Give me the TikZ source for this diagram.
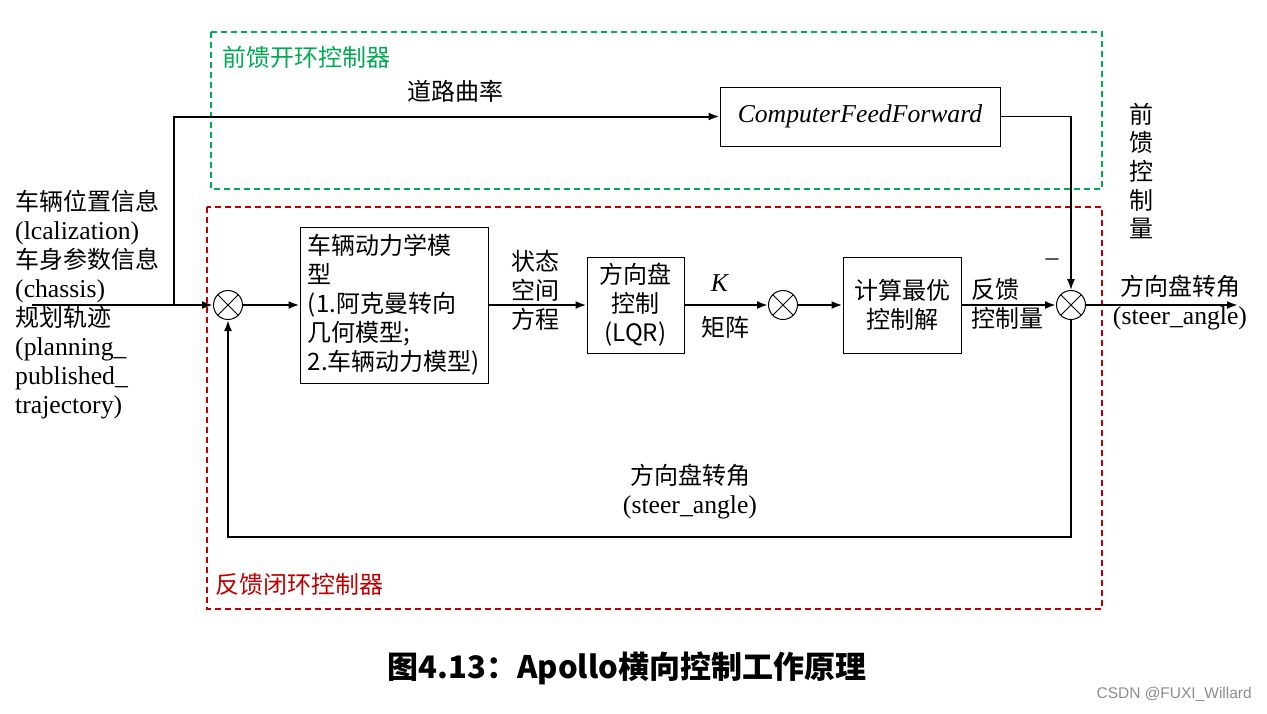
\documentclass[tikz,border=0pt]{standalone}
\usepackage{fontspec}
\setmainfont{Liberation Serif}[Scale=1.07]
\newfontfamily\cjk{Noto Sans CJK SC}
\newfontfamily\wmfont{Liberation Sans}
\usepackage{tikz}
\usetikzlibrary{arrows.meta,positioning,calc}

\definecolor{ffgreen}{RGB}{0,170,80}
\definecolor{fbred}{RGB}{192,0,0}

\begin{document}
\begin{tikzpicture}[
            x=1pt, y=-1pt,
            font=\fontsize{24}{29}\selectfont,
            blk/.style={draw, line width=1pt, inner sep=4pt, align=center},
            sumjct/.style={draw, circle, line width=1pt, minimum size=29pt,
            inner sep=0pt, path picture={
              \draw[line width=1pt]
                (path picture bounding box.south west) -- (path picture bounding box.north east)
                (path picture bounding box.north west) -- (path picture bounding box.south east);}},
            sig/.style={-{Latex[length=11pt,width=8pt]}, line width=2pt},
            fwd/.style={-{Latex[length=11pt,width=8pt]}, line width=1.5pt},
            lbl/.style={align=center, inner sep=0pt},
            frame/.style={line width=1.5pt, dash pattern=on 6pt off 4pt}
        ]
            \useasboundingbox (0,0) rectangle (1267,713);

% --- controller frames ---
            \draw[frame, ffgreen] (211,32) rectangle (1102,189);
            \draw[frame, fbred]   (207,207) rectangle (1102,609);
            \node[lbl, anchor=west, text=ffgreen] (fflbl) at (222,57)  {\cjk 前馈开环控制器};
            \node[lbl, anchor=west, text=fbred]   (fblbl) at (215,584) {\cjk 反馈闭环控制器};

% --- inputs ---
            \node[lbl, anchor=west, align=left] (inp) at (15,305)
                 {{\cjk 车辆位置信息}\\(lcalization)\\{\cjk 车身参数信息}\\(chassis)\\{\cjk 规划轨迹}\\(planning\_\\published\_\\trajectory)};
            \coordinate (in)  at (32,305);
            \coordinate (brk) at (174,305);

% --- feedback loop blocks ---
            \node[sumjct] (s1) at (228,305) {};
            \node[blk, align=left, minimum width=188pt, minimum height=156pt] (dyn) at (394,305)
                 {\cjk 车辆动力学模\\\cjk 型\\\cjk (1.阿克曼转向\\\cjk 几何模型;\\\cjk 2.车辆动力模型)};
            \node[blk, minimum width=97pt, minimum height=96pt] (lqr) at (635.5,305)
                 {\cjk 方向盘\\\cjk 控制\\\cjk (LQR)};
            \node[sumjct] (s2) at (783,305) {};
            \node[blk, minimum width=118pt, minimum height=96pt] (opt) at (902,305)
                 {\cjk 计算最优\\\cjk 控制解};
            \node[sumjct] (s3) at (1071,305) {};
            \coordinate (out) at (1238,305);
            \coordinate (fbc) at (1071,537);

% --- feedforward block ---
            \node[blk, minimum width=280pt, minimum height=59pt] (cff) at (860,116.5)
                 {\textit{ComputerFeedForward}};

% --- labels ---
            \node[lbl] (curv) at (455,91)  {\cjk 道路曲率};
            \node[lbl, font=\fontsize{24}{28.7}\selectfont] (ffq) at (1141,171)
                 {\cjk 前\\\cjk 馈\\\cjk 控\\\cjk 制\\\cjk 量};
            \node[lbl] (ss)   at (535,290) {\cjk 状态\\\cjk 空间\\\cjk 方程};
            \node[lbl] (kk)   at (720,283) {\textit{K}};
            \node[lbl] (mat)  at (725,327) {\cjk 矩阵};
            \node[lbl, anchor=west, align=left] (fbq) at (971,304) {\cjk 反馈\\\cjk 控制量};
            \node[lbl] (neg)  at (1052,262) {--};
            \node[lbl] (outl) at (1180,303) {{\cjk 方向盘转角}\\(steer\_angle)};
            \node[lbl] (fbl)  at (690,492)  {{\cjk 方向盘转角}\\(steer\_angle)};

% normal flow
            \draw[sig] (in)  -- (s1);
            \draw[sig] (s1)  -- (dyn);
            \draw[sig] (dyn) -- (lqr);
            \draw[sig] (lqr) -- (s2);
            \draw[sig] (s2)  -- (opt);
            \draw[sig] (opt) -- (s3);
            \draw[sig] (s3)  -- (out);

% feedforward path
            \draw[sig] (brk) |- (cff);
            \draw[fwd] (cff) -| (s3);

% feedback path
            \draw[sig] (s3) -- (fbc) -| (s1);

% --- caption ---
            \node[lbl, font=\fontsize{31}{36}\selectfont\bfseries] (cap) at (627,668)
                 {\cjk 图4.13：Apollo横向控制工作原理};
            \node[lbl, anchor=east, text=black!45, font=\fontsize{15.5}{18}\selectfont] (wm) at (1252,694)
                 {\wmfont CSDN @FUXI\_Willard};
        \end{tikzpicture}
\end{document}
